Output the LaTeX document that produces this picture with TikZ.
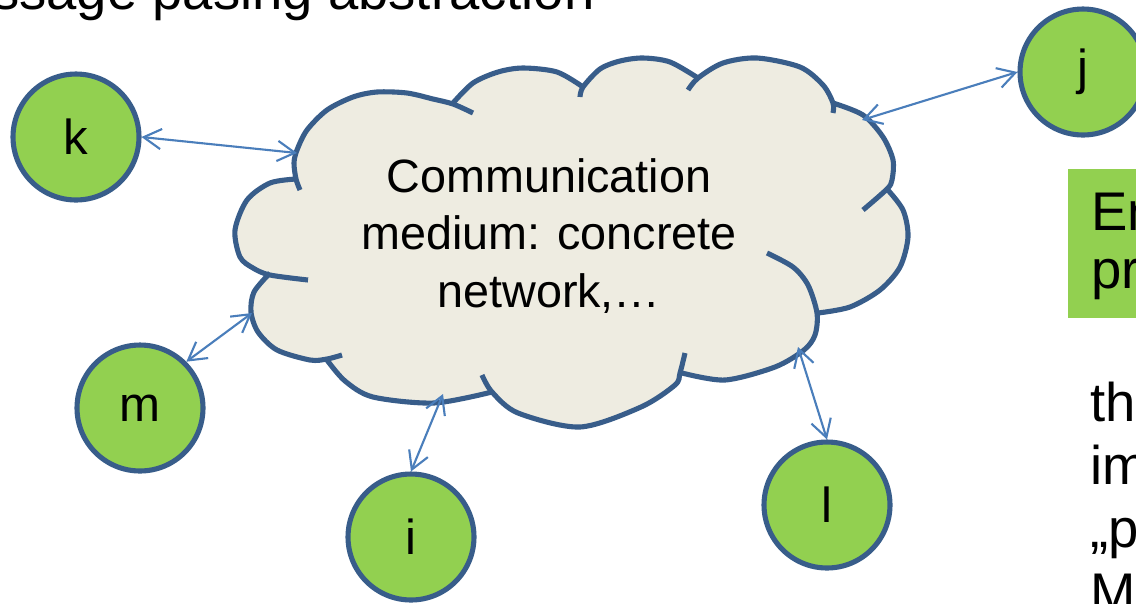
\documentclass[tikz,border=0pt]{standalone}
\usepackage{fontspec}
\setmainfont{Liberation Sans}
\usetikzlibrary{arrows.meta}
\definecolor{cloudline}{HTML}{385D8A}
\definecolor{cloudfill}{HTML}{EEECE1}
\definecolor{nodegreen}{HTML}{92D050}
\definecolor{linkblue}{HTML}{4A7EBB}
\begin{document}
\begin{tikzpicture}[x=0.02cm, y=-0.02cm,
  proc/.style={circle, draw=cloudline, line width=2.9pt, fill=nodegreen,
    minimum size=2.52cm, inner sep=0pt, font=\fontsize{28pt}{32pt}\selectfont},
  rim/.style={draw=cloudline, line width=2.9pt, line cap=butt},
  link/.style={draw=linkblue, line width=1.2pt, <->,
    >={Straight Barb[length=10pt,width=11.5pt]}},
  cloudtext/.style={inner sep=0pt, align=center,
    font=\fontsize{26.6pt}{32.6pt}\selectfont},
  bodytext/.style={inner sep=0pt, font=\fontsize{31pt}{37pt}\selectfont},
]
\useasboundingbox (0,0) rectangle (1136,603);
\clip (0,0) rectangle (1136,603);
\fill[white] (0,0) rectangle (1136,603);

% title line, partly above the frame
\node[bodytext, anchor=base east] (title) at (595,9) {Message pasing abstraction};

% cloud body
\fill[cloudfill]
  plot[smooth] coordinates {(296,179) (294,163) (297,150) (307,130) (327,110) (353,97) (377,92) (407,93) (433,99) (453,104)}
  -- plot[smooth] coordinates {(453,103) (473,83) (498,72) (523,68) (557,72) (583,87)}
  -- plot[smooth] coordinates {(583,87) (600,69) (620,61) (643,58) (670,62) (698,78)}
  -- plot[smooth] coordinates {(698,78) (723,63) (757,58) (800,67) (823,85) (833,103)}
  -- plot[smooth] coordinates {(833,103) (863,115) (883,137) (893,160) (892,180) (887,189)}
  -- plot[smooth] coordinates {(887,189) (903,210) (908,237) (900,267) (880,290) (850,307) (818,313)}
  -- plot[smooth] coordinates {(817,313) (815,335) (804,350) (775,367) (725,380) (682,373)}
  -- plot[smooth] coordinates {(680,373) (675,385) (641,407) (580,427) (518,413) (492,392)}
  -- plot[smooth] coordinates {(492,392) (434,403) (373,397) (345,381) (327,360)}
  -- plot[smooth] coordinates {(327,359) (310,360) (277,350) (258,332) (251,312) (254,292) (270,273)}
  -- plot[smooth] coordinates {(270,275) (253,268) (240,257) (235,230) (247,200) (270,183) (296,179)}
  -- cycle;

% cloud outline: one arc per bump, some running on inside
\draw[rim] plot[smooth] coordinates {(300,190) (296,179) (294,163) (297,150) (307,130) (327,110) (353,97) (377,92) (407,93) (433,99) (453,104) (473,113)};
\draw[rim] plot[smooth] coordinates {(453,103) (473,83) (498,72) (523,68) (557,72) (583,87)};
\draw[rim] plot[smooth] coordinates {(580,97) (583,87) (600,69) (620,61) (643,58) (670,62) (698,78)};
\draw[rim] plot[smooth] coordinates {(688,90) (698,78) (723,63) (757,58) (800,67) (823,85) (833,103) (833,113)};
\draw[rim] plot[smooth] coordinates {(833,103) (863,115) (883,137) (893,160) (892,180) (887,189) (863,210)};
\draw[rim] plot[smooth] coordinates {(887,189) (903,210) (908,237) (900,267) (880,290) (850,307) (818,313)};
\draw[rim] plot[smooth] coordinates {(767,253) (793,267) (808,285) (817,313) (815,335) (804,350) (775,367) (725,380) (682,373)};
\draw[rim] plot[smooth] coordinates {(685,353) (680,373) (675,385) (641,407) (580,427) (518,413) (492,392) (482,375)};
\draw[rim] plot[smooth] coordinates {(492,392) (434,403) (373,397) (345,381) (327,360)};
\draw[rim] plot[smooth] coordinates {(342,355) (327,359) (310,360) (277,350) (258,332) (251,312) (254,292) (270,273)};
\draw[rim] plot[smooth] coordinates {(296,179) (270,183) (247,200) (235,230) (240,257) (253,268) (270,275) (308,280)};

\node[cloudtext] (medium) at (549,236) {Communication\\medium: concrete\\network,…};

% processes
\node[proc] (k) at (76,137) {k};
\node[proc] (j) at (1083,72) {j};
\node[proc] (m) at (140,408) {m};
\node[proc] (i) at (411,537) {i};
\node[proc] (l) at (827,505) {l};

% attachment points on the cloud rim
\coordinate (ck) at (297,153);
\coordinate (cj) at (862,120);
\coordinate (cm) at (252,313);
\coordinate (ci) at (443,394);
\coordinate (cl) at (798,347);

\draw[link] (k.east) -- (ck);
\draw[link] (j.west) -- (cj);
\draw[link] (m.45) -- (cm);
\draw[link] (i.north) -- (ci);
\draw[link] (l.north) -- (cl);

% side panel and text
\node[fill=nodegreen, inner sep=0pt, minimum width=1.6cm, minimum height=2.98cm,
  anchor=north west] (panel) at (1068,169) {};
\node[bodytext, anchor=base west] (p1) at (1091,230) {En};
\node[bodytext, anchor=base west] (p2) at (1091,288) {pr};
\node[bodytext, anchor=base west] (s1) at (1090,421) {th};
\node[bodytext, anchor=base west] (s2) at (1090,484) {im};
\node[bodytext, anchor=base west] (s3) at (1090,547) {„p};
\node[bodytext, anchor=base west] (s4) at (1090,611) {M};
\end{tikzpicture}
\end{document}
